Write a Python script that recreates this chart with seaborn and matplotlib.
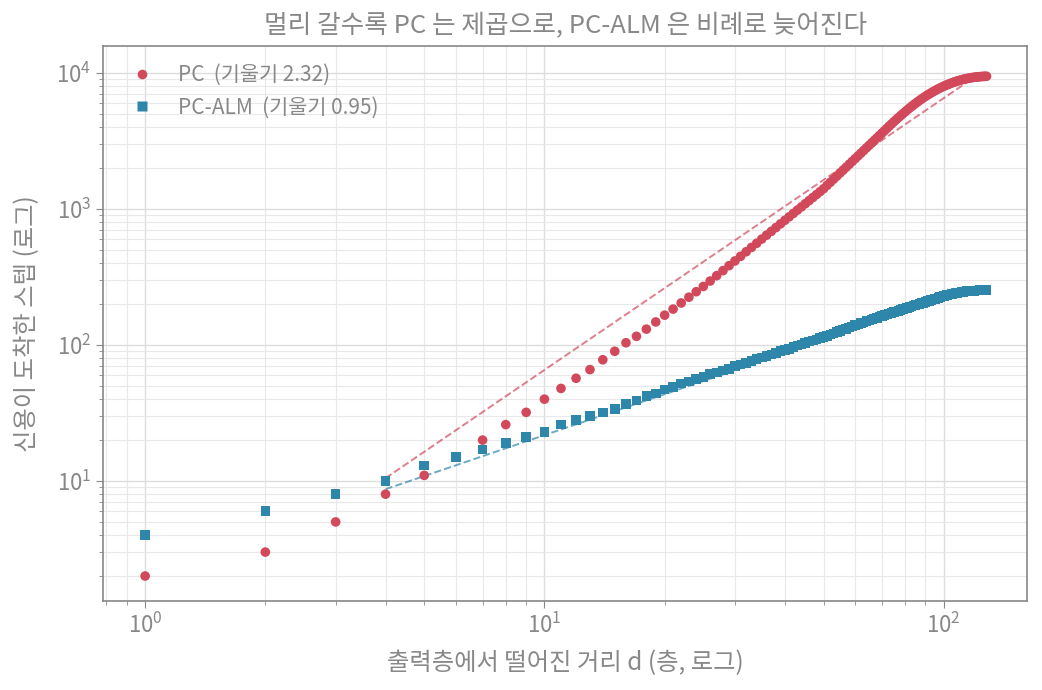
import numpy as np
import pandas as pd
import matplotlib
matplotlib.use("Agg")
import matplotlib.pyplot as plt
import seaborn as sns

# distance from output layer (layers) 1..128
distance = list(range(1, 129))

# steps until credit arrives
pc_steps = [
    2, 3, 5, 8, 11, 15, 20, 26, 32, 40,
    48, 57, 66, 78, 90, 104, 116, 131, 148, 166,
    184, 204, 225, 247, 270, 296, 324, 353, 384, 416,
    450, 486, 523, 561, 602, 644, 687, 732, 779, 828,
    878, 930, 984, 1039, 1097, 1156, 1217, 1280, 1345, 1413,
    1494, 1577, 1663, 1752, 1845, 1940, 2038, 2141, 2246, 2353,
    2465, 2580, 2698, 2820, 2944, 3073, 3205, 3341, 3481, 3625,
    3771, 3921, 4076, 4234, 4396, 4556, 4716, 4876, 5038, 5200,
    5363, 5525, 5686, 5845, 6003, 6159, 6312, 6464, 6613, 6758,
    6901, 7040, 7177, 7310, 7439, 7564, 7685, 7802, 7915, 8024,
    8128, 8229, 8326, 8419, 8508, 8594, 8675, 8752, 8825, 8894,
    8959, 9020, 9076, 9129, 9177, 9221, 9261, 9298, 9331, 9361,
    9388, 9412, 9433, 9451, 9467, 9481, 9492, 9502,
]
alm_steps = [
    4, 6, 8, 10, 13, 15, 17, 19, 21, 23,
    26, 28, 30, 32, 34, 37, 39, 42, 44, 47,
    49, 52, 54, 56, 58, 61, 63, 65, 67, 70,
    72, 74, 76, 79, 81, 83, 85, 87, 90, 92,
    94, 97, 99, 101, 104, 106, 108, 110, 113, 115,
    117, 120, 122, 125, 127, 130, 132, 135, 137, 140,
    142, 145, 147, 150, 152, 154, 157, 159, 162, 164,
    166, 168, 171, 173, 175, 177, 179, 182, 184, 186,
    188, 190, 192, 195, 197, 199, 201, 203, 205, 207,
    210, 212, 214, 216, 218, 220, 222, 225, 227, 229,
    231, 233, 235, 236, 238, 239, 241, 242, 243, 244,
    246, 247, 248, 249, 249, 250, 250, 251, 251, 252,
    252, 252, 253, 253, 253, 253, 254, 254,
]

labels = ["PC  (기울기 2.32)", "PC-ALM  (기울기 0.95)"]
# dashed guide lines as drawn: value at d=4 and slope on log-log
fit_start = 4
fit_end = 120
fit_at_start = [10.5, 8.7]
fit_slope = [2.0, 1.0]

red = "#d1495b"
blue = "#2e86ab"
gray = "#888888"

sns.set_style("white")
plt.rcParams["font.family"] = ["Noto Sans CJK KR", "DejaVu Sans"]
plt.rcParams["axes.unicode_minus"] = False

df = pd.DataFrame({
    "d": distance * 2,
    "steps": pc_steps + alm_steps,
    "method": [labels[0]] * len(distance) + [labels[1]] * len(distance),
})

fig = plt.figure(figsize=(10.42, 6.9), dpi=100)
ax = fig.add_axes([0.099, 0.129, 0.887, 0.804])

# fit lines
fit_rows = []
for lab, c0, s in zip(labels, fit_at_start, fit_slope):
    dd = np.array([d for d in distance if fit_start <= d <= fit_end], dtype=float)
    fit_rows.append(pd.DataFrame({"d": dd, "steps": c0 * (dd / fit_start) ** s, "method": lab}))
fit_df = pd.concat(fit_rows)
sns.lineplot(data=fit_df, x="d", y="steps", hue="method", palette=[red, blue],
             linestyle="--", linewidth=1.4, alpha=0.7, legend=False, ax=ax, zorder=2)

sns.scatterplot(data=df, x="d", y="steps", hue="method", style="method",
                palette=[red, blue], markers=["o", "s"], s=48,
                edgecolor="none", ax=ax, zorder=3)

ax.set_xscale("log")
ax.set_yscale("log")
ax.set_xlim(0.785, 162)
ax.set_ylim(1.31, 15800)

ax.grid(True, which="major", color="#dddddd", linewidth=1.0)
ax.grid(True, which="minor", color="#e8e8e8", linewidth=0.8)
ax.set_axisbelow(True)

for sp in ax.spines.values():
    sp.set_color(gray)
    sp.set_linewidth(1.2)
ax.tick_params(which="both", colors=gray, labelcolor=gray, direction="out")
ax.tick_params(which="major", length=5, labelsize=16)
ax.tick_params(which="minor", length=3)
ax.tick_params(axis="both", which="both", bottom=True, left=True)

ax.set_title("멀리 갈수록 PC 는 제곱으로, PC-ALM 은 비례로 늦어진다", color=gray, fontsize=18.5, pad=9)
ax.set_xlabel("출력층에서 떨어진 거리 d (층, 로그)", color=gray, fontsize=17.5, labelpad=9)
ax.set_ylabel("신용이 도착한 스텝 (로그)", color=gray, fontsize=17.5, labelpad=12)

leg = ax.legend(loc="upper left", frameon=False, fontsize=15, labelcolor=gray,
                handletextpad=0.75, borderaxespad=0.45, markerscale=1.0)

fig.savefig("out.png", dpi=100)
